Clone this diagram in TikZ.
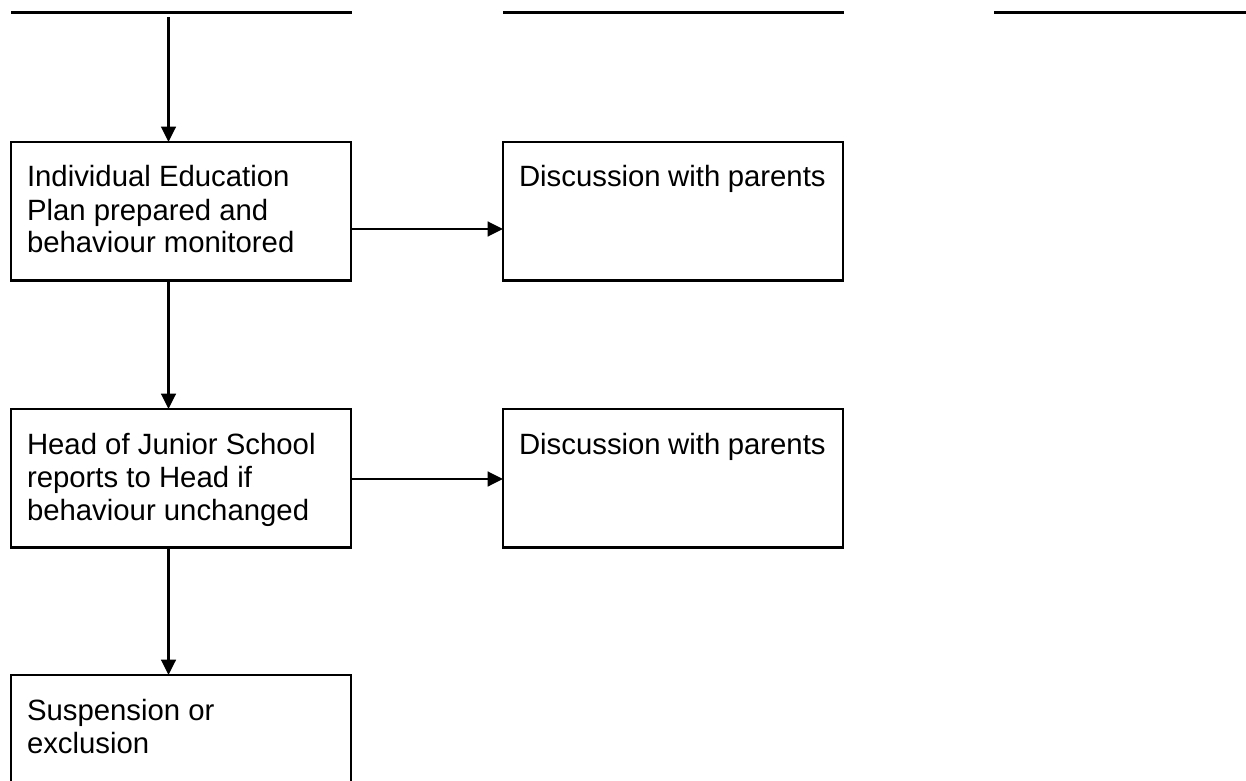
\documentclass[tikz,border=0pt]{standalone}
\usepackage{fontspec}
\setmainfont{Liberation Sans}
\usetikzlibrary{arrows.meta}
\begin{document}
\begin{tikzpicture}[x=0.75pt,y=-0.75pt,
  box/.style={draw, line width=1.8pt, rectangle, anchor=north west, inner sep=0pt, outer sep=0pt,
              minimum width=255pt, minimum height=104pt},
  lbl/.style={anchor=base west, inner sep=0pt, outer sep=0pt,
              font=\fontsize{22pt}{24.75pt}\selectfont},
  arr/.style={line width=1.8pt, -{Triangle[length=11.5pt,width=11pt]}},
  rule/.style={line width=1.9pt}]
\useasboundingbox (0,0) rectangle (1246,781);
\clip (0,0) rectangle (1246,781);
% top rules
\draw[rule] (11,12.5) -- (352,12.5);
\draw[rule] (503,12.5) -- (844,12.5);
\draw[rule] (994,12.5) -- (1246,12.5);
% boxes
\node[box] (b1) at (11,142) {};
\node[box] (r1) at (503,142) {};
\node[box] (b2) at (11,409) {};
\node[box] (r2) at (503,409) {};
\node[box] (b3) at (11,675) {};
% labels
\node[lbl] (t1) at ([xshift=12pt,yshift=-33.75pt]b1.north west)
  {\parbox[t]{230pt}{\raggedright Individual Education\\Plan prepared and\\behaviour monitored}};
\node[lbl] (u1) at ([xshift=12pt,yshift=-33.75pt]r1.north west)
  {\parbox[t]{230pt}{\raggedright Discussion with parents}};
\node[lbl] (t2) at ([xshift=12pt,yshift=-33.75pt]b2.north west)
  {\parbox[t]{230pt}{\raggedright Head of Junior School\\reports to Head if\\behaviour unchanged}};
\node[lbl] (u2) at ([xshift=12pt,yshift=-33.75pt]r2.north west)
  {\parbox[t]{230pt}{\raggedright Discussion with parents}};
\node[lbl] (t3) at ([xshift=12pt,yshift=-33.75pt]b3.north west)
  {\parbox[t]{230pt}{\raggedright Suspension or\\exclusion}};
% connectors
\coordinate (start) at (168.5,17);
\coordinate (h1) at (0,229);
\coordinate (h2) at (0,479);
\draw[arr] (start) -- (start |- b1.north);
\draw[arr] (start |- b1.south) -- (start |- b2.north);
\draw[arr] (start |- b2.south) -- (start |- b3.north);
\draw[arr] (b1.east |- h1) -- (r1.west |- h1);
\draw[arr] (b2.east |- h2) -- (r2.west |- h2);
\end{tikzpicture}
\end{document}
